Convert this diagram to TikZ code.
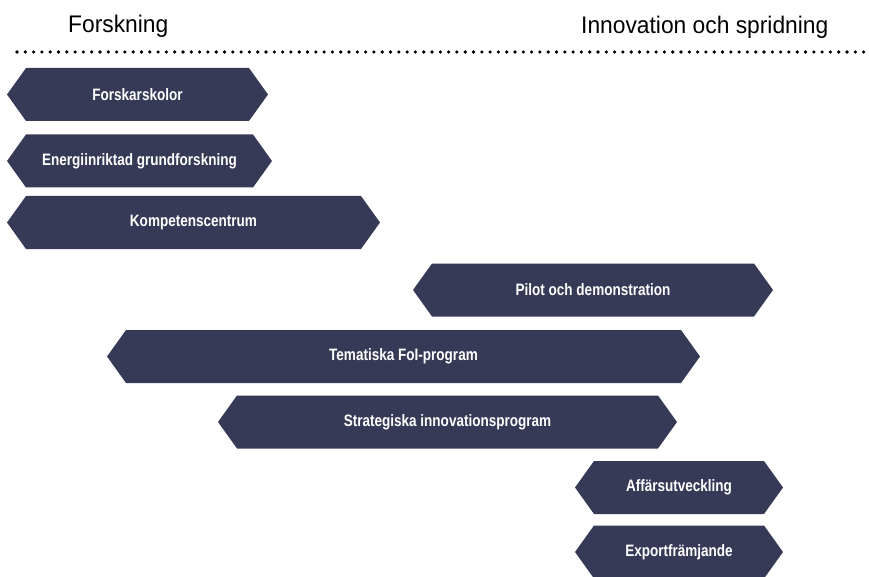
\documentclass[tikz,border=0pt]{standalone}
\usepackage{fontspec}
\setmainfont{Liberation Sans}
\newfontfamily\hdrfont{Liberation Sans}[FakeStretch=0.95]
\newfontfamily\boxfont{Liberation Sans}[FakeStretch=0.82]
\definecolor{boxfill}{RGB}{55,58,87}
\tikzset{
  hexfill/.style={fill=boxfill},
  boxtext/.style={text=white,font=\boxfont\bfseries\fontsize{16.5}{19}\selectfont,inner sep=0pt},
  hdrtext/.style={text=black,font=\hdrfont\fontsize{24}{27}\selectfont,anchor=base west,inner sep=0pt},
  dotline/.style={line width=3.6pt,line cap=round,dash pattern=on 0pt off 8.3pt}
}
\newcommand{\hexb}[5]{%
  \fill[hexfill] (#2,#4) -- (#2+19,#4-26.5) -- (#3-19,#4-26.5) -- (#3,#4)
    -- (#3-19,#4+26.5) -- (#2+19,#4+26.5) -- cycle;
  \node[boxtext] (#1) at ({(#2+#3)/2},#4) {#5};
}
\begin{document}
\begin{tikzpicture}[x=1pt,y=-1pt]
\useasboundingbox (0,0) rectangle (869,577);
\node[hdrtext] (forsk) at (68,33) {Forskning};
\node[hdrtext] (innov) at (581,34) {Innovation och spridning};
\coordinate (dl) at (17,52);
\coordinate (dr) at (869,52);
\draw[dotline] (dl) -- (dr);
\hexb{b1}{7}{268}{94.5}{Forskarskolor}
\hexb{b2}{7}{272}{161}{Energiinriktad grundforskning}
\hexb{b3}{7}{380}{222.5}{Kompetenscentrum}
\hexb{b4}{413}{773}{290}{Pilot och demonstration}
\hexb{b5}{107}{700}{356.5}{Tematiska FoI-program}
\hexb{b6}{218}{677}{422}{Strategiska innovationsprogram}
\hexb{b7}{575}{783}{487.5}{Affärsutveckling}
\hexb{b8}{575}{783}{552}{Exportfrämjande}
\end{tikzpicture}
\end{document}
